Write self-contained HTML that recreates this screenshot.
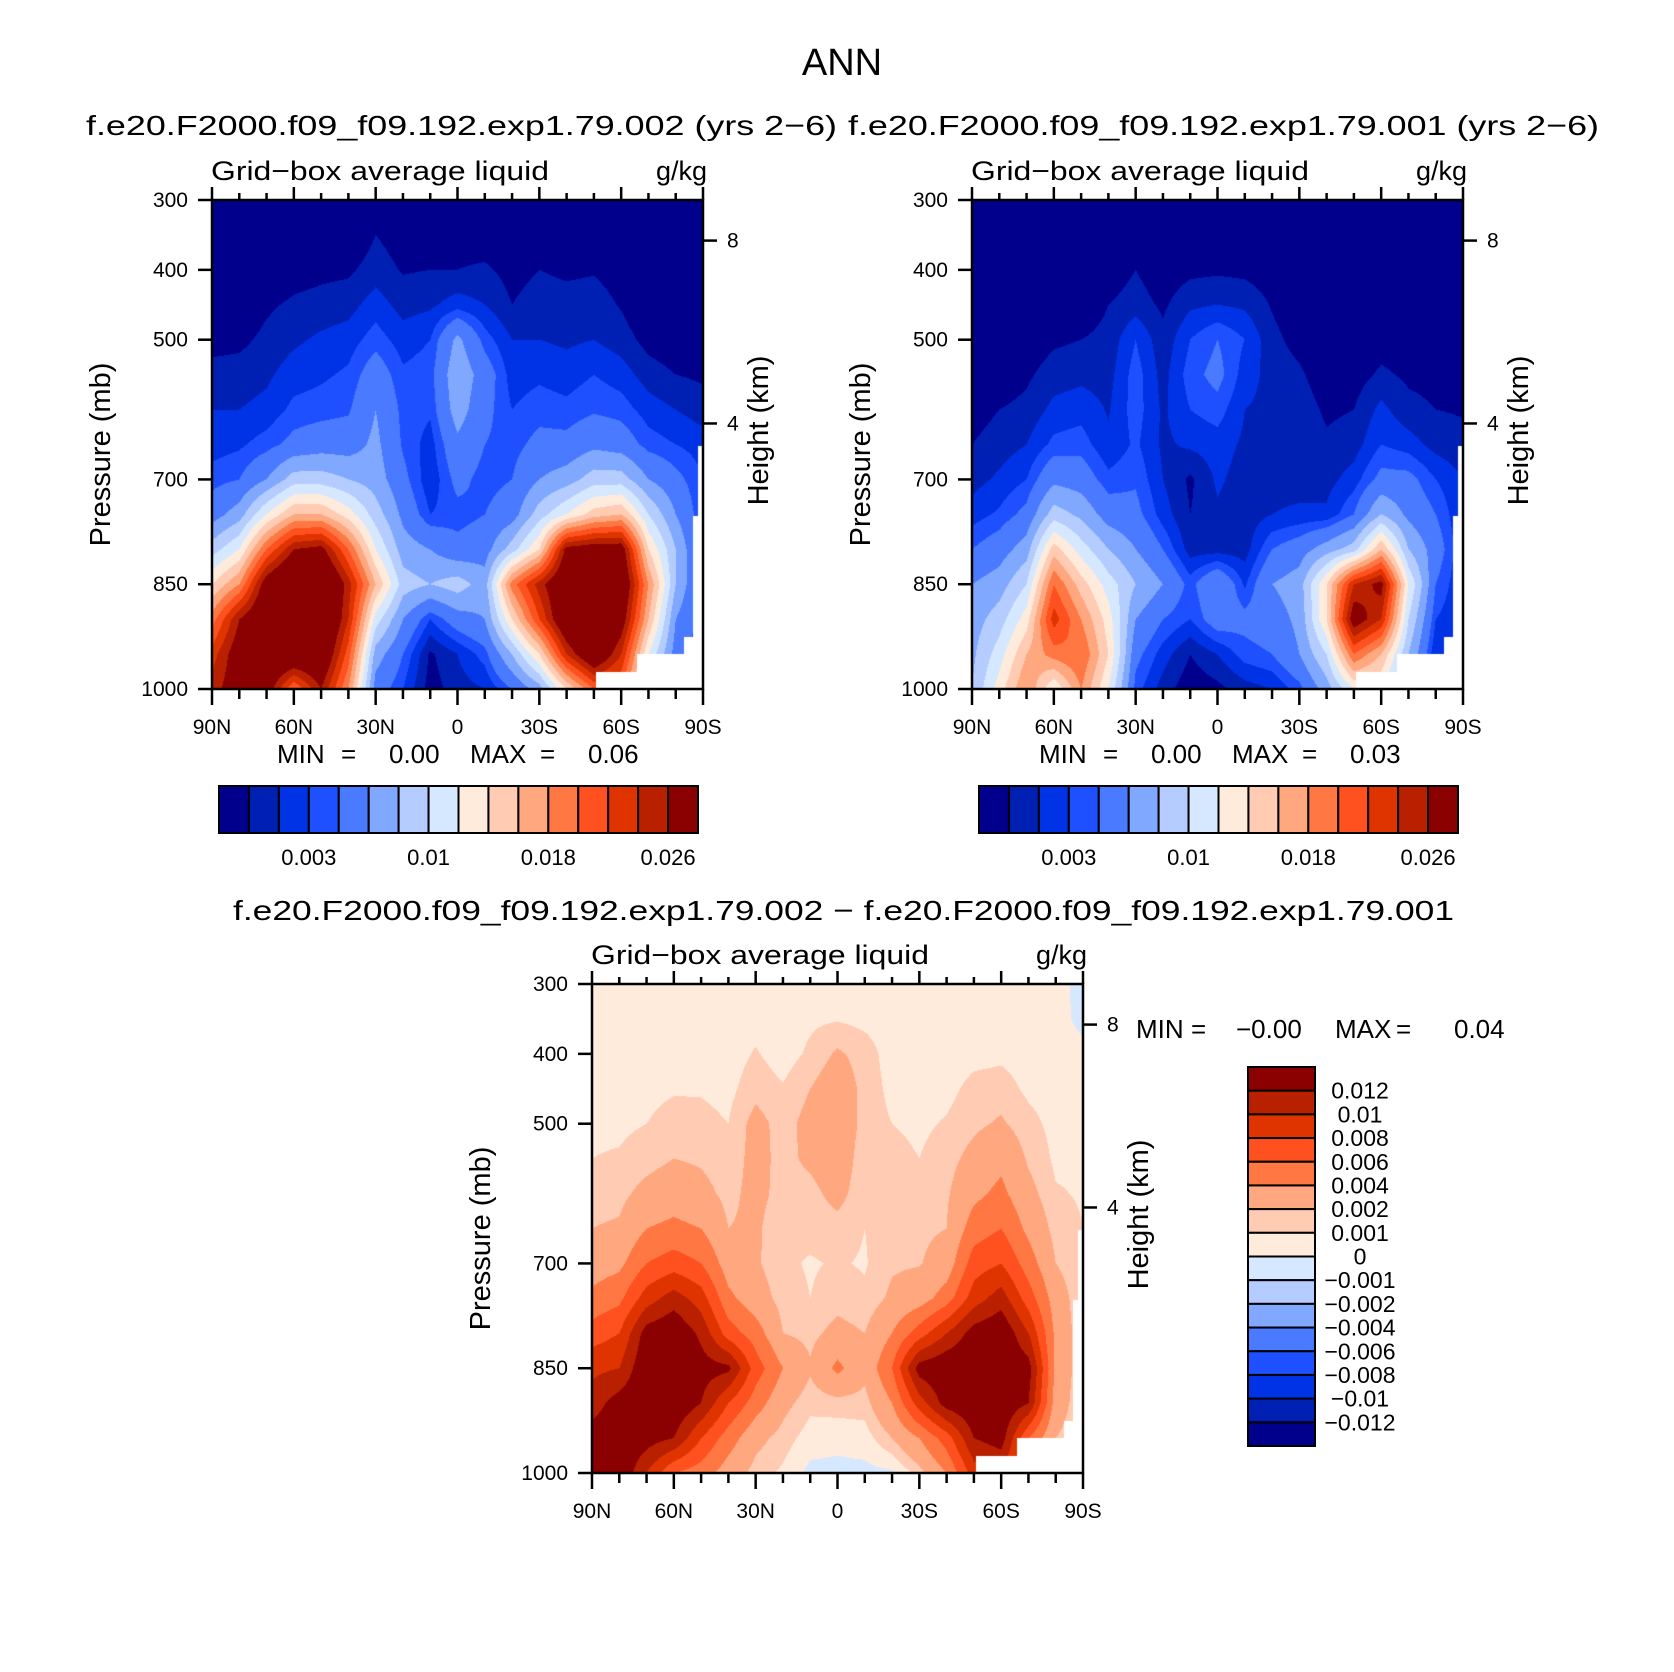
<!DOCTYPE html>
<html><head><meta charset="utf-8"><style>
html,body{margin:0;padding:0;background:#fff}
#root{position:relative;width:1674px;height:1672px;overflow:hidden;background:#fff}
canvas{position:absolute}
svg{position:absolute;left:0;top:0}
text{font-family:"Liberation Sans",sans-serif;fill:#000}
</style></head><body>
<div id="root">
<canvas id="c1"></canvas>
<canvas id="c2"></canvas>
<canvas id="c3"></canvas>
<svg id="s" width="1674" height="1672"></svg>
</div>
<script>
// latitude columns 90N..90S, pressure rows 300..1000 (values in 1e-3 g/kg)
const lats=[90,80,70,60,50,40,30,20,10,0,-10,-20,-30,-40,-50,-60,-70,-80,-90];
const pres=[300,350,400,450,500,550,600,650,700,750,800,850,900,950,1000];
const liq002=[
[0,0,0,0,0.5,1.5,2,2.5,3.5,5,9,14,19,23,25],
[0,0,0,0,0.7,1.5,2,2.8,4,7,12,18,26,28,28],
[0,0,0,0.8,1.3,1.8,2.3,3.5,6,12,20,28,30,30,28],
[0,0,0.5,1.2,1.8,2.5,3.3,4.5,9,16,26,32,32,30,20],
[0,0,0.7,1.4,2.2,2.8,3.5,5,9,16,27,32,32,30,26],
[0,0,0.8,1.6,2.5,3.2,3.8,5,8,13,20,25,24,21,18],
[0,1,1.5,2.5,3.5,5,6,6.5,7,9,12,16,11,7,5],
[0,0.5,0.9,1.6,2.5,3.2,3.6,3.8,4.5,5.5,7,9,6,4,3],
[0,0.5,1,1.8,3,3.5,3.2,2.5,2.2,3,6,8,3,0.8,0.5],
[0,0.5,1,2.5,6.5,7.5,7,5.5,4.5,3.5,4.5,9,5,2,1.5],
[0,0.3,1.2,2,3.5,5,4.5,4,3.5,4,5,7,6,3.5,2],
[0,0,0.6,1,2,2.5,3,3.5,4,5,9,19,14,8,4],
[0,0,1,1.5,2,2.8,3.5,4.5,6,9,14,25,22,14,7],
[0,0,0.8,1.4,1.8,2.5,3.3,4.5,7,12,27,30,30,24,14],
[0,0,0.9,1.5,2,3,3.8,5.5,9,15,28,32,32,30,20],
[0,0,0.5,0.9,1.5,2.5,3.5,5,9,16,28,30,28,24,20],
[0,0,0,0,0.6,1.5,2.5,3.5,6,10,14,18,16,12,10],
[0,0,0,0,0.3,1,2,3,4.5,6,8,8,6,5,4],
[0,0,0,0,0.2,0.8,1.5,2.5,3,3,3,3,3,3,3]];
const liq001=[
[0,0,0,0,0,0,0.5,1,1.6,2.5,4,6,7,7.5,8],
[0,0,0,0,0,0.3,1,1.5,2.2,3.2,5,7,9,11,13],
[0,0,0,0,0.3,0.8,1.3,2,3,4.5,7,10,13,16,18],
[0,0,0,0,0.8,1.5,2.3,3.3,5.5,9,15,20,23,19,12],
[0,0,0,0.3,1,1.7,2.6,3.5,5,7.5,11,15,18,20,18],
[0,0,0.3,1,1.3,1.6,1.9,2.2,3.3,5,8,11,13,14,12],
[0,0.5,1,1.5,3,3.5,3.5,3.2,3.8,4.5,6,8,6,4.5,3.5],
[0,0,0.3,0.8,1.3,1.6,1.8,1.8,2,2.5,4,6,4,2.5,1.5],
[0,0,0.7,1.8,3,3.5,3,2.2,0.8,1,1.5,3.5,3,1,0.3],
[0,0,0.8,2,4,4.5,3.5,2.5,2.2,1.8,1.5,6,5,2,0.7],
[0,0,0.7,1.8,3,2.5,2,1.8,1.5,1.4,1.5,2.8,4.5,3.5,1.5],
[0,0,0.4,0.9,1.3,1.6,1.7,1.8,1.6,2,4,6,5,4,2],
[0,0,0,0.3,0.6,1.2,1.6,1.8,1.6,2.2,5,7,6.5,6,3.5],
[0,0,0,0,0,0.3,0.8,1.2,1.6,2.2,7,14,14,10,7],
[0,0,0,0,0,0.5,1,1.5,2.5,4,9,24,28,20,12],
[0,0,0,0,0.5,1.2,2.3,3,4.5,8,16,27,24,16,12],
[0,0,0,0,0.4,0.8,1.3,2.5,4.5,5.5,8,12,10,8,6],
[0,0,0,0,0.3,0.7,1,1.6,3,4,5,4,3,2,2],
[0,0,0,0,0.3,0.6,0.9,1.3,2,2,2,2,2,2,2]];
const liqDiff=[
[.5,.5,.5,.6,.8,1,1.5,2,3,4.5,7,9.5,11,13,13],
[.5,.5,.5,.6,.8,1.1,1.6,2.2,3.5,5.5,8,10,13,14,14],
[.5,.5,.5,.7,1,1.5,2.5,4,6,9,13,14,14,13,10],
[.5,.5,.6,.9,1.4,2,3,4.5,7,11,14,15,14,12,6],
[.5,.5,.6,.9,1.3,1.8,2.5,4,6,9,11.5,13,12,8,5],
[.5,.5,.5,.7,1,1.3,1.6,2,3,4.5,7,12.5,8,5,3],
[.5,.6,1.1,1.6,2.5,2.5,2.5,2.3,2.2,2.8,5,7,5,2.5,1.5],
[.5,.5,.5,1.1,1.5,1.6,1.5,1,1.2,1.5,2,4,2.5,1.5,.8],
[.5,.8,1.2,2,2.5,2.3,1.6,1.3,.9,1,1.6,2.2,1.3,.5,-.3],
[.5,.9,2.2,3,3.3,3,2.5,1.5,1.1,1.5,2.5,4.5,1.5,.3,-.3],
[.5,.7,1.5,1.6,1.5,1.3,1.2,1,.9,1.2,2,2.5,1.5,.5,-.3],
[.5,.5,.5,.7,1,1.3,1.5,1.6,1.8,2.3,4,6,4,2,-.2],
[.5,.5,.5,.6,.8,1,1.5,1.7,1.9,3,7,13,9,4,1.5],
[.5,.5,.5,.7,1.1,1.5,1.8,2,2.8,5,10,14,13,7,4],
[.5,.5,.7,1.3,1.7,2.5,3.5,5,7,9,13,14,14,12,9],
[.5,.6,.8,1.4,2.2,3.5,4.5,6,8,11,14,14,14,13,10],
[.5,.5,.6,.8,1.3,1.8,2.5,3.5,5,7,10,13,12,6,5],
[.3,.4,.5,.6,.7,.8,1.1,1.5,2,3,3.5,3.5,3,2,2],
[-.3,-.3,.3,.5,.7,.8,.9,1,1,1,1,1,1,1,1]];
// missing (below-ground) steps: south of maskLat and below maskP
const maskLat=[-50.7,-65.7,-82.9,-86.3,-88.1];
const maskP=[976,950,925,752,652];
const levAbs=[1,2,3,4,6,8,10,12,14,16,18,20,22,24,26];
const levDiff=[-12,-10,-8,-6,-4,-2,-1,0,1,2,4,6,8,10,12];
const absLabels=['0.003','0.01','0.018','0.026'];
const absLabelIdx=[3,7,11,15];
const diffLabels=['0.012','0.01','0.008','0.006','0.004','0.002','0.001','0','\u22120.001','\u22120.002','\u22120.004','\u22120.006','\u22120.008','\u22120.01','\u22120.012'];
const pTicks=[300,400,500,700,850,1000];
const hTicks=['8','4'];const hFrac=[0.083,0.457];
const xTickLabels=['90N','60N','30N','0','30S','60S','90S'];
const cols=['#00008C','#0020B4','#0032E6','#1E50FF','#4A7AFF','#80A8FF','#B4CCFF','#D6E8FF','#FFEBDC','#FFCBB3','#FFA880','#FF7843','#FF5020','#E03400','#B82000','#8B0000'];

function hex(c){return [parseInt(c.substr(1,2),16),parseInt(c.substr(3,2),16),parseInt(c.substr(5,2),16)];}
const rgb=cols.map(hex);
function yOfP(p,y0,h){return y0+(p-300)/700*h;}
function xOfLat(l,x0,w){return x0+(90-l)/180*w;}
function sample(grid,lat,p){
  const fi=(90-lat)/10, fj=(p-300)/50;
  let i=Math.min(17,Math.floor(fi)), j=Math.min(13,Math.floor(fj));
  const a=fi-i,b=fj-j;
  return grid[i][j]*(1-a)*(1-b)+grid[i+1][j]*a*(1-b)+grid[i][j+1]*(1-a)*b+grid[i+1][j+1]*a*b;
}
function masked(lat,p){for(let k=0;k<maskLat.length;k++){if(lat<maskLat[k]&&p>maskP[k])return true;}return false;}
function drawField(id,grid,levs,x0,y0,w,h){
  const c=document.getElementById(id);c.width=w;c.height=h;c.style.left=x0+'px';c.style.top=y0+'px';
  const ctx=c.getContext('2d');const img=ctx.createImageData(w,h);
  for(let y=0;y<h;y++){const p=300+(y+0.5)/h*700;
    for(let x=0;x<w;x++){const lat=90-(x+0.5)/w*180;const o=(y*w+x)*4;
      if(masked(lat,p)){img.data[o]=255;img.data[o+1]=255;img.data[o+2]=255;img.data[o+3]=255;continue;}
      const v=sample(grid,lat,p);let k=0;while(k<levs.length&&v>=levs[k])k++;
      const col=rgb[k];img.data[o]=col[0];img.data[o+1]=col[1];img.data[o+2]=col[2];img.data[o+3]=255;}}
  ctx.putImageData(img,0,0);
}
const NS='http://www.w3.org/2000/svg';const S=document.getElementById('s');
function el(tag,at,parent){const e=document.createElementNS(NS,tag);for(const k in at)e.setAttribute(k,at[k]);(parent||S).appendChild(e);return e;}
function txt(str,x,y,size,anchor,extra){const t=el('text',Object.assign({x:x,y:y,'font-size':size,'text-anchor':anchor||'start'},extra||{}));t.textContent=str;return t;}

function axes(x0,y0,w,h,name){
  const g=el('g',{});
  
  
  el('rect',{x:x0,y:y0,width:w,height:h,fill:'none',stroke:'#000','stroke-width':2.5},g);
  for(let d=0;d<=180;d+=10){const x=xOfLat(90-d,x0,w);const L=d%30===0?13:7;
    el('line',{x1:x,y1:y0,x2:x,y2:y0-L,stroke:'#000','stroke-width':2.5},g);
    el('line',{x1:x,y1:y0+h,x2:x,y2:y0+h+L+3,stroke:'#000','stroke-width':2.5},g);}
  xTickLabels.forEach((s,i)=>{const t=txt(s,xOfLat(90-30*i,x0,w),y0+h+45,21,'middle');
    
    });
  pTicks.forEach(p=>{const y=yOfP(p,y0,h);el('line',{x1:x0-14,y1:y,x2:x0,y2:y,stroke:'#000','stroke-width':2.5},g);
    const t=txt(String(p),x0-24,y+7,21,'end');
    
    });
  hTicks.forEach((s,i)=>{const y=y0+hFrac[i]*h;el('line',{x1:x0+w,y1:y,x2:x0+w+14,y2:y,stroke:'#000','stroke-width':2.5},g);
    const t=txt(s,x0+w+24,y+7,21,'start');
    
    });
  const t1=txt('Grid\u2212box average liquid',x0-1,y0-20,27,'start',{textLength:338,lengthAdjust:'spacingAndGlyphs'});
  
  
  const t2=txt('g/kg',x0+w+4,y0-20,27,'end');
  
  
}
function vlabel(str,cx,cy,name){const t=txt(str,0,0,29,'middle',{transform:'translate('+cx+','+cy+') rotate(-90)'});
  
  }

const P=[{x:212,y:200,id:'c1',g:liq002,n:'panel-exp002'},{x:972,y:200,id:'c2',g:liq001,n:'panel-exp001'},{x:592,y:984,id:'c3',g:liqDiff,n:'panel-difference'}];
const W=491,H=489;
P.forEach((p,i)=>{drawField(p.id,p.g,i<2?levAbs:levDiff,p.x,p.y,W,H);axes(p.x,p.y,W,H,p.n);
  vlabel('Pressure (mb)',p.x-102,p.y+H/2+10,'y-axis-title');vlabel('Height (km)',p.x+W+65,p.y+H/2-14,'y2-axis-title');});

// titles
let t=txt('ANN',842,75,38,'middle');
t=txt('f.e20.F2000.f09_f09.192.exp1.79.002 (yrs 2\u22126)',86,135,28,'start',{textLength:751,lengthAdjust:'spacingAndGlyphs'});
t=txt('f.e20.F2000.f09_f09.192.exp1.79.001 (yrs 2\u22126)',848,135,28,'start',{textLength:751,lengthAdjust:'spacingAndGlyphs'});
t=txt('f.e20.F2000.f09_f09.192.exp1.79.002 \u2212 f.e20.F2000.f09_f09.192.exp1.79.001',233,920,28,'start',{textLength:1221,lengthAdjust:'spacingAndGlyphs'});

// min/max statements (pieces placed separately)
function minmax(name,xs,strs,y){const g=el('g',{});
  
  
  strs.forEach((s,k)=>{const tt=el('text',{x:xs[k],y:y,'font-size':26},g);tt.textContent=s;});}
minmax('left-min-max',[277,341,389,470,540,588],['MIN','=','0.00','MAX','=','0.06'],763);
minmax('right-min-max',[1039,1103,1151,1232,1302,1350],['MIN','=','0.00','MAX','=','0.03'],763);
minmax('diff-min-max',[1136,1191,1236,1335,1396,1454],['MIN','=','\u22120.00','MAX','=','0.04'],1038);

// horizontal colorbars
[219,979].forEach((cx,bi)=>{const g=el('g',{});
  
  
  const cw=479/16;
  cols.forEach((c,k)=>{const r=el('rect',{x:cx+k*cw,y:786,width:cw,height:47,fill:c,stroke:'#000','stroke-width':2},g);
    
    });
  absLabels.forEach((s,k)=>{const tt=txt(s,cx+absLabelIdx[k]*cw,865,22,'middle');
    
    });
});
// vertical colorbar
{const g=el('g',{});
  
  
  const ch=379/16;
  for(let k=0;k<16;k++){const r=el('rect',{x:1248,y:1067+k*ch,width:67,height:ch,fill:cols[15-k],stroke:'#000','stroke-width':2},g);
    
    }
  diffLabels.forEach((s,k)=>{const tt=txt(s,1360,1067+(k+1)*ch+8,23,'middle');
    
    });
}
</script>
</body></html>
